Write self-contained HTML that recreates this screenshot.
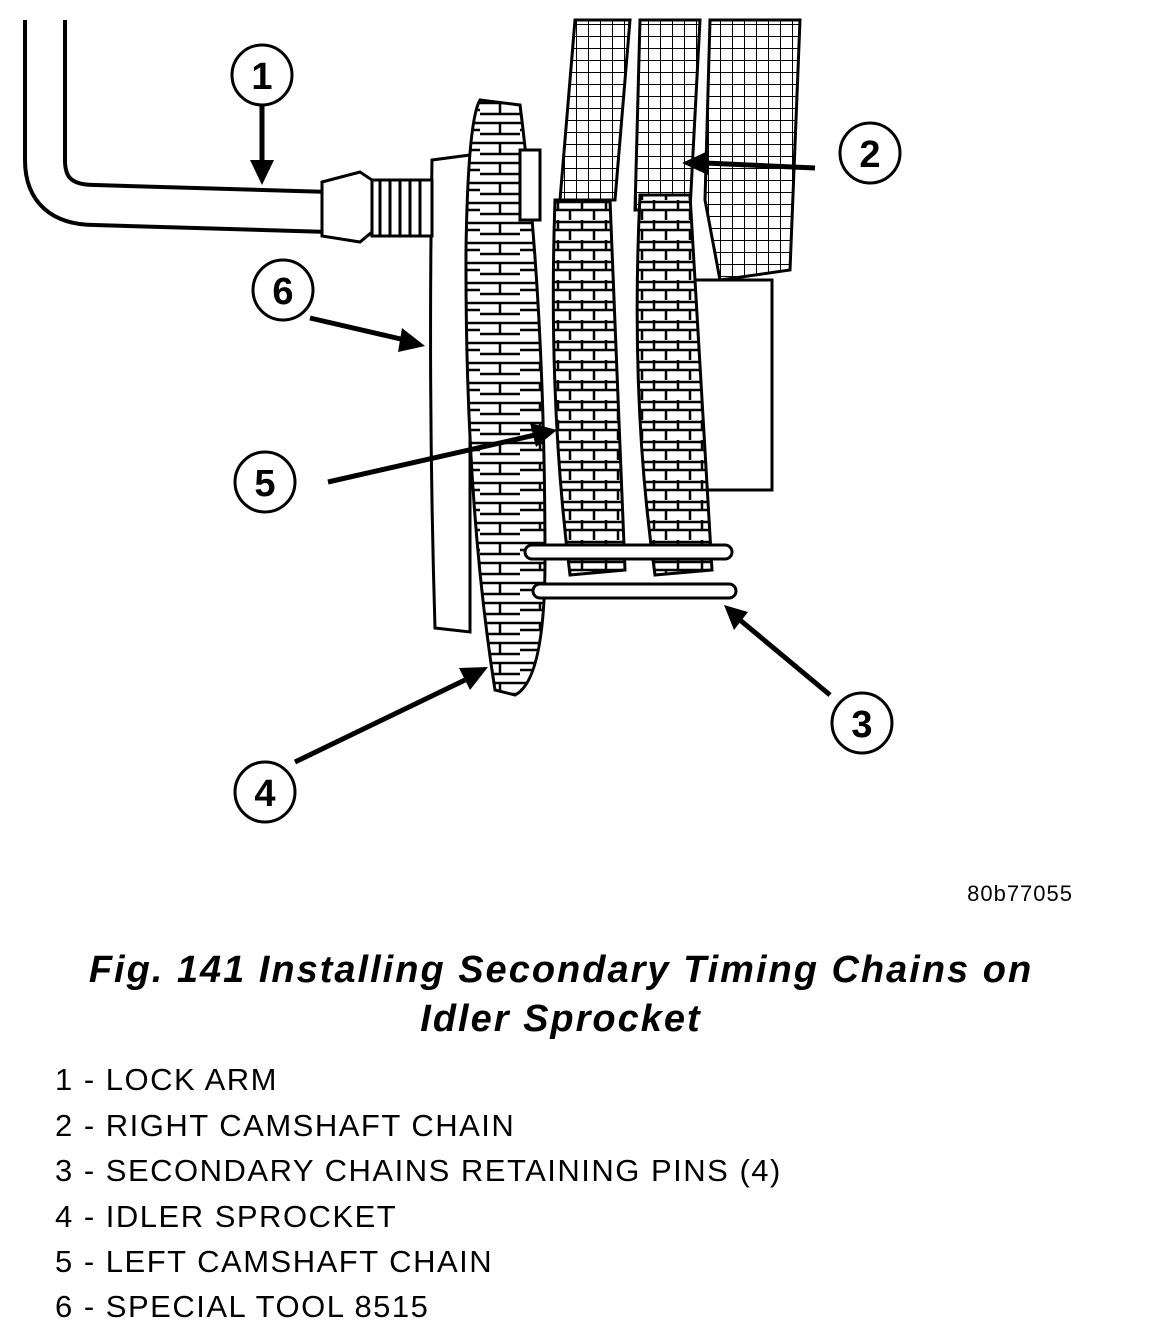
<!DOCTYPE html>
<html><head><meta charset="utf-8"><style>
html,body{margin:0;padding:0;background:#fff;}
svg{display:block;}
</style></head><body>
<svg width="1152" height="1327" viewBox="0 0 1152 1327" xmlns="http://www.w3.org/2000/svg" font-family="Liberation Sans, sans-serif">
<defs>
<pattern id="grid" width="12" height="12" patternUnits="userSpaceOnUse">
<rect width="12" height="12" fill="#fff"/>
<path d="M0 0H12M0 0V12" stroke="#000" stroke-width="2"/>
</pattern>
<pattern id="link" width="24" height="20" patternUnits="userSpaceOnUse">
<rect width="24" height="20" fill="#fff"/>
<path d="M0 2H24M0 10H24M6 0V10M18 10V20" stroke="#000" stroke-width="2.5"/>
</pattern>
<pattern id="teeth" width="80" height="20" patternUnits="userSpaceOnUse">
<rect width="80" height="20" fill="#fff"/>
<path d="M0 3H80M0 14H40M40 10H80M20 3V14M60 3V10" stroke="#000" stroke-width="2.5"/>
</pattern>
</defs>

<g stroke="#000" stroke-width="3">
<path d="M575 20 L630 20 L615 200 L560 200 Z" fill="url(#grid)"/>
<path d="M640 20 L700 20 L690 210 L635 210 Z" fill="url(#grid)"/>
<path d="M710 20 L800 20 L790 270 L720 280 L705 200 Z" fill="url(#grid)"/>
</g>
<rect x="690" y="280" width="82" height="210" fill="#fff" stroke="#000" stroke-width="3"/>
<path d="M432 160 L470 155 L470 632 L435 628 Q428 400 432 160 Z" fill="#fff" stroke="#000" stroke-width="3"/>
<path d="M45 20 L45 160 Q45 205 95 205 L330 212" fill="none" stroke="#000" stroke-width="44"/>
<path d="M45 20 L45 160 Q45 205 95 205 L330 212" fill="none" stroke="#fff" stroke-width="36"/>
<path d="M322 182 L360 172 L372 180 L372 232 L360 242 L322 236 Z" fill="#fff" stroke="#000" stroke-width="3"/>
<g stroke="#000" stroke-width="3" fill="#fff">
<rect x="372" y="180" width="60" height="56"/>
<path d="M380 180V236M390 180V236M400 180V236M410 180V236M420 180V236"/>
</g>
<path d="M480 100 L520 105 Q545 300 545 560 Q545 680 515 695 L495 690 Q465 500 466 250 Q468 120 480 100 Z" fill="url(#teeth)" stroke="#000" stroke-width="3"/>
<rect x="520" y="150" width="20" height="70" fill="#fff" stroke="#000" stroke-width="3"/>
<g stroke="#000" stroke-width="3">
<path d="M555 200 L610 200 L625 570 L570 575 Q548 400 555 200 Z" fill="url(#link)"/>
<path d="M640 195 L690 195 L712 570 L655 575 Q630 400 640 195 Z" fill="url(#link)"/>
</g>
<g stroke="#000" stroke-width="3" fill="#fff">
<rect x="525" y="545" width="207" height="14" rx="7"/>
<rect x="533" y="584" width="203" height="14" rx="7"/>
</g>

<g stroke="#000" stroke-width="5" fill="none">
<line x1="262" y1="106" x2="262" y2="165"/>
<line x1="815" y1="168" x2="705" y2="163"/>
<line x1="310" y1="318" x2="405" y2="340"/>
<line x1="328" y1="482" x2="535" y2="435"/>
<line x1="830" y1="695" x2="740" y2="620"/>
<line x1="295" y1="762" x2="465" y2="680"/>
</g>
<g fill="#000">
<path d="M250 160 L274 160 L262 185 Z"/>
<path d="M708 151 L708 175 L682 163 Z"/>
<path d="M402 328 L398 352 L425 346 Z"/>
<path d="M530 423 L536 447 L557 430 Z"/>
<path d="M748 612 L734 630 L724 605 Z"/>
<path d="M459 668 L470 690 L488 667 Z"/>
</g>

<g fill="#fff" stroke="#000" stroke-width="3">
<circle cx="262" cy="75" r="30"/>
<circle cx="870" cy="153" r="30"/>
<circle cx="283" cy="290" r="30"/>
<circle cx="265" cy="482" r="30"/>
<circle cx="862" cy="723" r="30"/>
<circle cx="265" cy="792" r="30"/>
</g>
<g font-size="38" font-weight="bold" text-anchor="middle" fill="#000">
<text x="262" y="89">1</text>
<text x="870" y="167">2</text>
<text x="283" y="304">6</text>
<text x="265" y="496">5</text>
<text x="862" y="737">3</text>
<text x="265" y="806">4</text>
</g>

<text x="1073" y="901" font-size="22" letter-spacing="1" text-anchor="end" fill="#000">80b77055</text>
<g font-size="38" font-weight="bold" font-style="italic" text-anchor="middle" fill="#000" letter-spacing="2">
<text x="561" y="982">Fig. 141 Installing Secondary Timing Chains on</text>
<text x="561" y="1031">Idler Sprocket</text>
</g>
<g font-size="31" fill="#000" letter-spacing="1.5">
<text x="55" y="1090">1 - LOCK ARM</text>
<text x="55" y="1136">2 - RIGHT CAMSHAFT CHAIN</text>
<text x="55" y="1181">3 - SECONDARY CHAINS RETAINING PINS (4)</text>
<text x="55" y="1227">4 - IDLER SPROCKET</text>
<text x="55" y="1272">5 - LEFT CAMSHAFT CHAIN</text>
<text x="55" y="1317">6 - SPECIAL TOOL 8515</text>
</g>
</svg>
</body></html>
